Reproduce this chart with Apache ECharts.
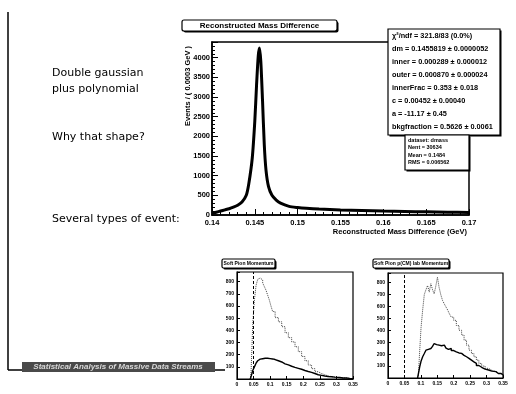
<!DOCTYPE html>
<html>
<head>
<meta charset="utf-8">
<script src="https://cdn.jsdelivr.net/npm/echarts@6/dist/echarts.min.js"></script>
<style>
  html, body { margin: 0; padding: 0; background: #fff; }
  #chart { width: 516px; height: 394px; }
</style>
</head>
<body>
<div id="chart"></div>
<script>
// Main histogram: reconstructed D* - D0 mass difference (GeV) and events per bin
const massX = [0.1400, 0.1405, 0.1410, 0.1415, 0.1420, 0.1425, 0.1430, 0.1435, 0.1440, 0.1443,
  0.1447, 0.1450, 0.1452, 0.1454, 0.14555, 0.1457, 0.1459, 0.1461, 0.1463, 0.1466,
  0.1470, 0.1475, 0.1480, 0.1490, 0.1500, 0.1510, 0.1525, 0.1550, 0.1575, 0.1600,
  0.1625, 0.1650, 0.1675, 0.1700];
const massY = [40, 70, 100, 130, 160, 200, 250, 330, 500, 800,
  1450, 2400, 3300, 4050, 4250, 3900, 2900, 1800, 1150, 720,
  500, 380, 300, 220, 190, 170, 150, 130, 115, 100,
  90, 80, 70, 65];
const massTicks = [0.14, 0.145, 0.15, 0.155, 0.16, 0.165, 0.17];

// Fit summary and dataset statistics
const fitLines = [
  'χ²/ndf = 321.8/83 (0.0%)',
  'dm = 0.1455819 ± 0.0000052',
  'inner = 0.000289 ± 0.000012',
  'outer = 0.000870 ± 0.000024',
  'innerFrac = 0.353 ± 0.018',
  'c = 0.00452 ± 0.00040',
  'a = -11.17 ± 0.45',
  'bkgfraction = 0.5626 ± 0.0061'
];
const statLines = ['dataset: dmass', 'Nent = 30634', 'Mean = 0.1484', 'RMS = 0.006562'];

// Soft pion momentum, first event type
const p1X = [0.040, 0.045, 0.050, 0.055, 0.060, 0.065, 0.070, 0.075, 0.080, 0.085,
  0.090, 0.095, 0.100, 0.105, 0.110, 0.120, 0.130, 0.140, 0.150, 0.160,
  0.170, 0.180, 0.190, 0.200, 0.210, 0.220, 0.230, 0.240, 0.250, 0.260,
  0.270, 0.280, 0.290, 0.300, 0.320, 0.340, 0.350];
const p1Dotted = [0, 60, 450, 650, 770, 820, 830, 815, 790, 760,
  730, 690, 650, 600, 555, 505, 470, 430, 380, 340,
  305, 265, 225, 185, 150, 115, 85, 60, 45, 35,
  25, 20, 15, 12, 8, 3, 2];
const p1Solid = [0, 20, 70, 100, 130, 150, 163, 167, 170, 171,
  171, 170, 168, 165, 160, 150, 140, 125, 116, 105,
  96, 88, 80, 70, 62, 55, 45, 35, 30, 25,
  21, 18, 15, 12, 8, 5, 3];

// Soft pion momentum, second event type
const p2X = [0.090, 0.095, 0.098, 0.103, 0.108, 0.113, 0.118, 0.123, 0.128, 0.133,
  0.138, 0.143, 0.148, 0.153, 0.158, 0.163, 0.169, 0.174, 0.179, 0.184,
  0.189, 0.196, 0.204, 0.212, 0.220, 0.228, 0.235, 0.243, 0.250, 0.258,
  0.265, 0.273, 0.280, 0.290, 0.301, 0.311, 0.321, 0.336, 0.351];
const p2Dotted = [0, 20, 230, 420, 570, 700, 740, 775, 720, 790,
  740, 705, 770, 845, 760, 700, 650, 620, 595, 570,
  540, 510, 483, 440, 400, 360, 317, 275, 233, 205,
  178, 150, 122, 100, 81, 65, 53, 38, 25];
const p2Solid = [0, 10, 94, 140, 178, 205, 233, 240, 247, 245,
  265, 289, 280, 275, 261, 270, 275, 262, 250, 240,
  247, 230, 219, 210, 206, 190, 178, 165, 150, 135,
  122, 105, 90, 75, 67, 58, 53, 38, 25];
const pTicks = [0, 0.05, 0.1, 0.15, 0.2, 0.25, 0.3, 0.35];
const pCut = 0.05;

const zip = (xs, ys) => xs.map((x, i) => [x, ys[i]]);
const FONT = '"Liberation Sans", Arial, sans-serif';
const SLIDE_FONT = '"DejaVu Sans", sans-serif';

function fmtTick(v) { return String(+(+v).toFixed(4)); }

function smallX(gi) {
  return {
    type: 'value', gridIndex: gi, min: 0, max: 0.35, interval: 0.05,
    axisLine: { show: true, onZero: false, lineStyle: { color: '#000', width: 1 } },
    axisTick: { show: true, inside: true, length: 3, lineStyle: { color: '#000' } },
    splitLine: { show: false },
    axisLabel: { fontSize: 5, fontWeight: 'bold', fontFamily: FONT, color: '#000', margin: 3,
      formatter: v => pTicks.some(t => Math.abs(t - v) < 1e-6) ? fmtTick(v) : '' }
  };
}
function smallY(gi) {
  return {
    type: 'value', gridIndex: gi, min: 0, max: 880, interval: 100,
    axisLine: { show: true, lineStyle: { color: '#000', width: 1 } },
    axisTick: { show: true, inside: true, length: 3, lineStyle: { color: '#000' } },
    splitLine: { show: false },
    axisLabel: { fontSize: 5, fontWeight: 'bold', fontFamily: FONT, color: '#000', margin: 3,
      formatter: v => (v > 0 && v % 100 === 0 && v <= 800) ? String(v) : '' }
  };
}
function step(name, xs, ys, gi, dotted, cut) {
  const s = {
    name, type: 'line', xAxisIndex: gi, yAxisIndex: gi, step: 'middle',
    data: zip(xs, ys), symbol: 'none', z: 3,
    lineStyle: dotted ? { color: '#444', width: 1, type: [1, 1] } : { color: '#000', width: 1.4 }
  };
  if (cut !== undefined) {
    s.markLine = {
      silent: true, symbol: 'none', label: { show: false },
      lineStyle: { color: '#000', width: 1, type: [3, 2] },
      data: [{ xAxis: cut }]
    };
  }
  return s;
}

function txt(x, y, text, opts) {
  return Object.assign({ type: 'text', x, y, z: 110,
    style: Object.assign({ text, fill: '#000', font: 'bold 7.5px ' + FONT, textVerticalAlign: 'middle' }, opts || {}) });
}
function box(x, y, w, h, r) {
  return [
    { type: 'rect', z: 100, shape: { x: x + 1.5, y: y + 1.5, width: w, height: h, r: r || 0 }, style: { fill: '#000' } },
    { type: 'rect', z: 101, shape: { x, y, width: w, height: h, r: r || 0 }, style: { fill: '#fff', stroke: '#000', lineWidth: 1.2 } }
  ];
}

const graphics = [];
// slide border and footer band
graphics.push({ type: 'line', z: 100, shape: { x1: 8, y1: 12, x2: 8, y2: 370 }, style: { stroke: '#000', lineWidth: 1.5 } });
graphics.push({ type: 'line', z: 100, shape: { x1: 8, y1: 370, x2: 225, y2: 370 }, style: { stroke: '#000', lineWidth: 1.5 } });
graphics.push({ type: 'rect', z: 100, shape: { x: 22, y: 362, width: 193, height: 10 }, style: { fill: '#4a4a4a' } });
graphics.push(txt(118, 367, 'Statistical Analysis of Massive Data Streams',
  { fill: '#d8d8d8', font: 'italic bold 8px ' + FONT, textAlign: 'center' }));

// slide text
graphics.push(txt(52, 73, 'Double gaussian', { font: '11px ' + SLIDE_FONT }));
graphics.push(txt(52, 89, 'plus polynomial', { font: '11px ' + SLIDE_FONT }));
graphics.push(txt(52, 137, 'Why that shape?', { font: '11px ' + SLIDE_FONT }));
graphics.push(txt(52, 219, 'Several types of event:', { font: '11px ' + SLIDE_FONT }));

// main histogram title
graphics.push(...box(182, 20, 155, 11, 2));
graphics.push(txt(259.5, 25.5, 'Reconstructed Mass Difference', { textAlign: 'center', font: 'bold 8px ' + FONT }));

// axis titles
graphics.push({ type: 'text', z: 110, x: 188, y: 86, rotation: Math.PI / 2,
  style: { text: 'Events / ( 0.0003 GeV )', fill: '#000', font: 'bold 7.5px ' + FONT, textAlign: 'center', textVerticalAlign: 'middle' } });
graphics.push(txt(467, 232, 'Reconstructed Mass Difference (GeV)', { textAlign: 'right', font: 'bold 7.5px ' + FONT }));

// fit results box
graphics.push(...box(388, 29, 112, 106));
fitLines.forEach((l, i) => graphics.push(txt(392, 35.5 + i * 13, l, { font: 'bold 7.3px ' + FONT })));
// dataset statistics box
graphics.push(...box(405, 135, 64, 35));
statLines.forEach((l, i) => graphics.push(txt(408, 140 + i * 7.5, l, { font: 'bold 5.5px ' + FONT })));

// small plot titles
graphics.push(...box(222, 259, 53, 9, 1.5));
graphics.push(txt(248.5, 263.5, 'Soft Pion Momentum', { textAlign: 'center', font: 'bold 5px ' + FONT }));
graphics.push(...box(373, 259, 76, 9, 1.5));
graphics.push(txt(411, 263.5, 'Soft Pion p(CM) lab Momentum', { textAlign: 'center', font: 'bold 5px ' + FONT }));

const chart = echarts.init(document.getElementById('chart'), null, { renderer: 'canvas' });
chart.setOption({
  backgroundColor: '#fff',
  animation: false,
  grid: [
    { left: 212, top: 42, width: 257, height: 173, show: true, borderColor: '#000', borderWidth: 1.5, backgroundColor: 'transparent', containLabel: false, outerBoundsMode: 'none' },
    { left: 237, top: 272, width: 116, height: 107, show: true, borderColor: '#000', borderWidth: 1.2, backgroundColor: 'transparent', containLabel: false, outerBoundsMode: 'none' },
    { left: 388, top: 273, width: 115, height: 105, show: true, borderColor: '#000', borderWidth: 1.2, backgroundColor: 'transparent', containLabel: false, outerBoundsMode: 'none' }
  ],
  xAxis: [
    {
      type: 'value', gridIndex: 0, min: 0.14, max: 0.17, interval: 0.005,
      axisLine: { show: true, onZero: false, lineStyle: { color: '#000', width: 1.5 } },
      axisTick: { show: true, inside: true, length: 6, lineStyle: { color: '#000', width: 1 } },
      minorTick: { show: true, splitNumber: 5, length: 3, lineStyle: { color: '#000', width: 1 } },
      splitLine: { show: false },
      axisLabel: { fontSize: 7.5, fontWeight: 'bold', fontFamily: FONT, color: '#000', margin: 4,
        formatter: v => massTicks.some(t => Math.abs(t - v) < 1e-7) ? fmtTick(v) : '' }
    },
    smallX(1), smallX(2)
  ],
  yAxis: [
    {
      type: 'value', gridIndex: 0, min: 0, max: 4400, interval: 500,
      axisLine: { show: true, lineStyle: { color: '#000', width: 1.5 } },
      axisTick: { show: true, inside: true, length: 6, lineStyle: { color: '#000', width: 1 } },
      minorTick: { show: true, splitNumber: 5, length: 3, lineStyle: { color: '#000', width: 1 } },
      splitLine: { show: false },
      axisLabel: { fontSize: 7.5, fontWeight: 'bold', fontFamily: FONT, color: '#000', margin: 2,
        formatter: v => (v % 500 === 0 && v <= 4000) ? String(v) : '' }
    },
    smallY(1), smallY(2)
  ],
  graphic: { elements: graphics },
  series: [
    {
      name: 'dmass', type: 'line', xAxisIndex: 0, yAxisIndex: 0,
      data: zip(massX, massY), smooth: 0.25, symbol: 'none', z: 3,
      lineStyle: { color: '#000', width: 3 }
    },
    step('type1 all', p1X, p1Dotted, 1, true, pCut),
    step('type1 signal', p1X, p1Solid, 1, false),
    step('type2 all', p2X, p2Dotted, 2, true, pCut),
    step('type2 signal', p2X, p2Solid, 2, false)
  ]
});
</script>
</body>
</html>
